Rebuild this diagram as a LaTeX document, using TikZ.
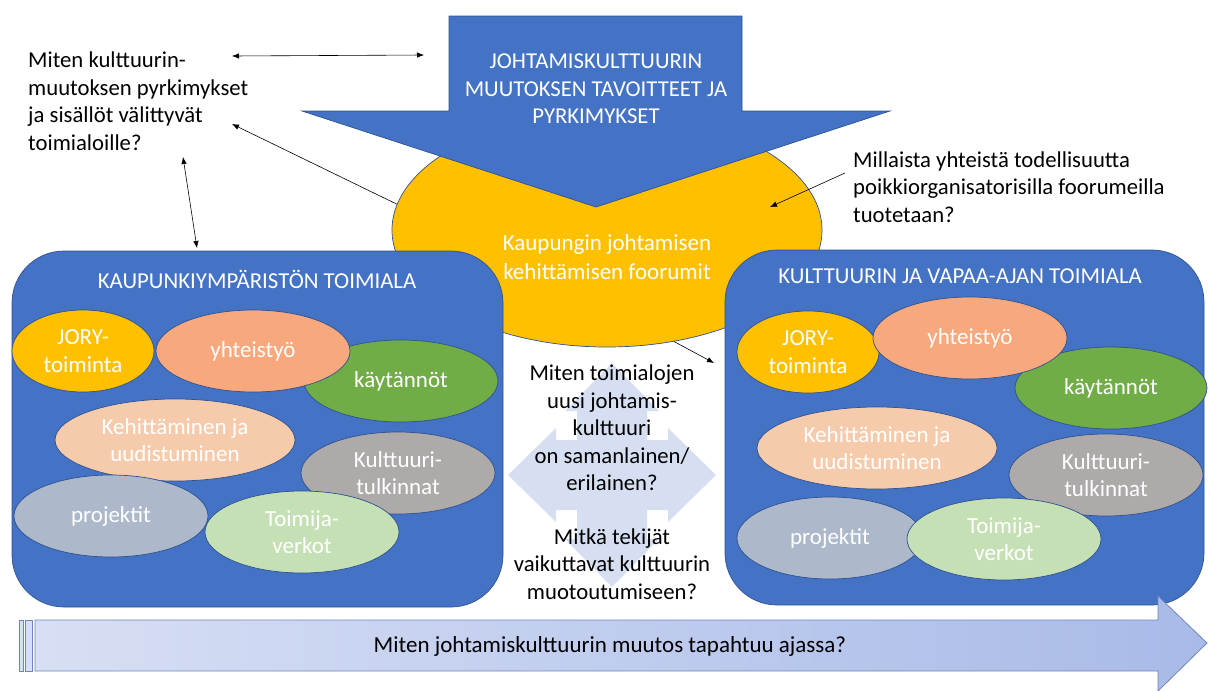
\documentclass[tikz,border=0pt]{standalone}
\usepackage{fontspec}
\setmainfont{Carlito}
\usetikzlibrary{shapes.geometric,arrows.meta,positioning}
\definecolor{acblue}{HTML}{4472C4}
\definecolor{edgeblue}{HTML}{2F528F}
\definecolor{forumgold}{HTML}{FFC000}
\definecolor{coopsalmon}{HTML}{F7A87C}
\definecolor{devpeach}{HTML}{F6CBAC}
\definecolor{practgreen}{HTML}{70AD47}
\definecolor{interpgray}{HTML}{AEAAAA}
\definecolor{projgray}{HTML}{ADB9CA}
\definecolor{netgreen}{HTML}{C5E0B4}
\definecolor{quadblue}{HTML}{D6DFF1}
\definecolor{timeleft}{HTML}{D7DFF4}
\definecolor{timeright}{HTML}{A8BAE8}
\definecolor{timeedge}{HTML}{6E86BC}
\tikzset{
  bubble/.style={ellipse,draw=edgeblue,line width=0.7pt,text=white,align=center,
    inner sep=0pt,minimum height=82,font=\fontsize{23}{27.5}\selectfont},
  sector/.style={draw=edgeblue,line width=0.7pt,fill=acblue,rounded corners=52pt},
  caption/.style={text=white,font=\fontsize{22.8}{27}\selectfont},
  question/.style={align=left,font=\fontsize{22.7}{27.5}\selectfont,inner sep=0pt},
  link/.style={<->,line width=0.6pt}
}
\begin{document}
\begin{tikzpicture}[x=1pt,y=-1pt,>={Latex[length=7pt,width=5.5pt]}]
\useasboundingbox (0,0) rectangle (1208,691);
% forum ellipse behind the big arrow
\node (forum) at (607,230) [ellipse,draw=edgeblue,line width=0.7pt,fill=forumgold,
  minimum width=430,minimum height=234] {};
\node (forumtext) at (607,257) [text=white,align=center,
  font=\fontsize{23}{28.5}\selectfont] {Kaupungin johtamisen\\kehittämisen foorumit};
% big arrow: goals
\draw[edgeblue,line width=0.7pt,fill=acblue]
  (449,16) -- (742,16) -- (742,111) -- (890,111) -- (596,207)
  -- (302,111) -- (449,111) -- cycle;
\node (goal) at (596,89) [text=white,align=center,
  font=\fontsize{22.7}{27.5}\selectfont]
  {JOHTAMISKULTTUURIN\\MUUTOKSEN TAVOITTEET JA\\PYRKIMYKSET};
% sectors
\node (leftbox) at (257.5,429) [sector,minimum width=491,minimum height=356] {};
\node (rightbox) at (964.5,427.5) [sector,minimum width=479,minimum height=355] {};
\node (lefttitle) at (257,279) [caption] {KAUPUNKIYMPÄRISTÖN TOIMIALA};
\node (righttitle) at (960,276) [caption] {KULTTUURIN JA VAPAA-AJAN TOIMIALA};
% left sector bubbles
\node (ljory) at (83,351) [bubble,fill=forumgold,minimum width=142] {JORY-\\toiminta};
\node (lpract) at (401,381) [bubble,fill=practgreen,minimum width=194] {käytännöt};
\node (lcoop) at (253,351) [bubble,fill=coopsalmon,minimum width=194] {yhteistyö};
\node (ldev) at (175,440) [bubble,fill=devpeach,minimum width=240] {Kehittäminen ja\\uudistuminen};
\node (linterp) at (398,473) [bubble,fill=interpgray,minimum width=194] {Kulttuuri-\\tulkinnat};
\node (lproj) at (111,516) [bubble,fill=projgray,minimum width=194] {projektit};
\node (lnet) at (302,532) [bubble,fill=netgreen,minimum width=194] {Toimija-\\verkot};
% right sector bubbles
\node (rjory) at (808,352) [bubble,fill=forumgold,minimum width=142] {JORY-\\toiminta};
\node (rpract) at (1111,388) [bubble,fill=practgreen,minimum width=192] {käytännöt};
\node (rcoop) at (970,338) [bubble,fill=coopsalmon,minimum width=194] {yhteistyö};
\node (rdev) at (877,448) [bubble,fill=devpeach,minimum width=240] {Kehittäminen ja\\uudistuminen};
\node (rinterp) at (1106,475) [bubble,fill=interpgray,minimum width=194] {Kulttuuri-\\tulkinnat};
\node (rproj) at (830,538) [bubble,fill=projgray,minimum width=186] {projektit};
\node (rnet) at (1004,539) [bubble,fill=netgreen,minimum width=194] {Toimija-\\verkot};
% four-way arrow in the middle
\fill[quadblue] (612,363) -- (659,411) -- (647,411) -- (647,440) -- (668,440) -- (668,428)
  -- (716,475) -- (668,522) -- (668,510) -- (647,510) -- (647,539) -- (659,539)
  -- (612,587) -- (565,539) -- (577,539) -- (577,510) -- (556,510) -- (556,522)
  -- (508,475) -- (556,428) -- (556,440) -- (577,440) -- (577,411) -- (565,411) -- cycle;
% questions
\node (q1) at (28,101) [question,anchor=west]
  {Miten kulttuurin-\\muutoksen pyrkimykset\\ja sisällöt välittyvät\\toimialoille?};
\node (q2) at (853,187) [question,anchor=west]
  {Millaista yhteistä todellisuutta\\poikkiorganisatorisilla foorumeilla\\tuotetaan?};
\node (q3) at (612,428) [question,align=center]
  {Miten toimialojen\\uusi johtamis-\\kulttuuri\\on samanlainen/\\erilainen?};
\node (q4) at (612,564) [question,align=center]
  {Mitkä tekijät\\vaikuttavat kulttuurin\\muotoutumiseen?};
% time line
\path[left color=timeleft,right color=timeright,draw=timeedge,line width=0.8pt]
  (35,620) -- (1158,620) -- (1158,596) -- (1207,643) -- (1158,691)
  -- (1158,671) -- (35,671) -- cycle;
\path[fill=timeleft,draw=timeedge,line width=0.8pt] (19,620) rectangle (23,671);
\path[fill=timeleft,draw=timeedge,line width=0.8pt] (25,620) rectangle (32,671);
\node (q5) at (610,646) [font=\fontsize{23}{27}\selectfont]
  {Miten johtamiskulttuurin muutos tapahtuu ajassa?};
% connectors
\coordinate (q1east) at (232,56);
\coordinate (goalwest) at (424,55);
\coordinate (q1mid) at (232,124);
\coordinate (q1south) at (183,157);
\coordinate (leftboxtop) at (197,248);
\coordinate (q2west) at (845,173);
\coordinate (forumin) at (770,207);
\coordinate (rightboxedge) at (714,363);
\draw[link] (q1east) -- (goalwest);
\draw[->,line width=0.6pt] (forum.173) -- (q1mid);
\draw[link] (q1south) -- (leftboxtop);
\draw[->,line width=0.6pt] (q2west) -- (forumin);
\draw[->,line width=0.6pt] (forum.-59) -- (rightboxedge);
\end{tikzpicture}
\end{document}
